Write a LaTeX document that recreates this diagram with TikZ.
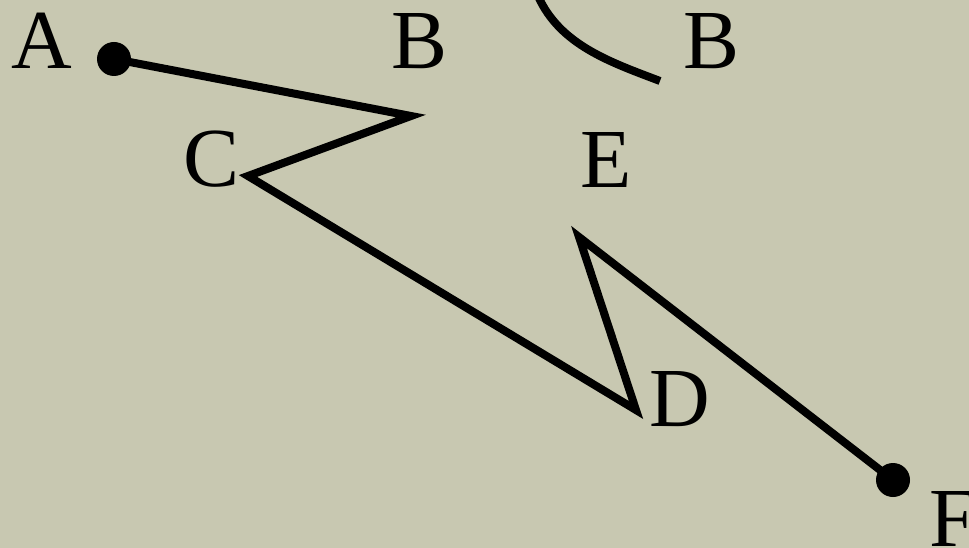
\documentclass[tikz,border=0pt]{standalone}
\usepackage{fontspec}
\setmainfont{Liberation Serif}
\definecolor{bg}{RGB}{200,200,177}
\begin{document}
\begin{tikzpicture}[x=1pt,y=-1pt,
  lbl/.style={anchor=base west,inner sep=0pt,font=\fontsize{84}{84}\selectfont},
  seg/.style={line width=8pt,line join=miter},
  dot/.style={circle,fill=black,inner sep=0pt,minimum size=34pt}]
\fill[bg] (0,0) rectangle (969,548);
\useasboundingbox (0,0) rectangle (969,548);
\node[dot] (A) at (114,59) {};
\node[dot] (F) at (893,480) {};
\coordinate (B) at (411,116);
\coordinate (C) at (248,176);
\coordinate (D) at (636,410);
\coordinate (E) at (579,237);
\coordinate (P) at (538,-4);
\coordinate (Q) at (660,81);
\draw[seg] (A.center) -- (B) -- (C) -- (D) -- (E) -- (F.center);
\draw[line width=8pt] (P) .. controls (560,45) and (610,62) .. (Q);
\node[lbl] (lA) at (11,69) {A};
\node[lbl] (lB) at (391,69) {B};
\node[lbl] (lC) at (183,187) {C};
\node[lbl] (lB2) at (683,69) {B};
\node[lbl] (lE) at (580,188) {E};
\node[lbl] (lD) at (649,426) {D};
\node[lbl] (lF) at (929,546) {F};
\end{tikzpicture}
\end{document}
